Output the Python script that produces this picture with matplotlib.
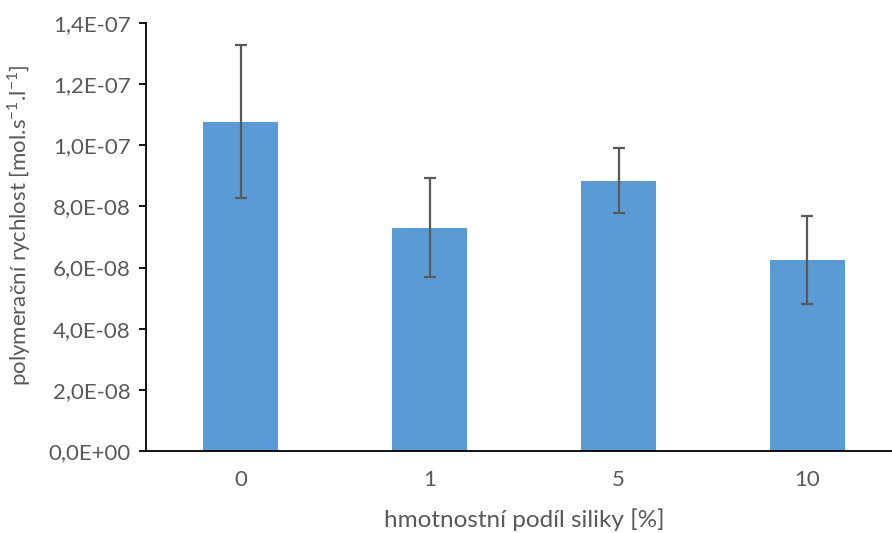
import numpy as np
import matplotlib
matplotlib.use('Agg')
import matplotlib.pyplot as plt
from matplotlib.ticker import FuncFormatter

categories = ['0', '1', '5', '10']
rates = [1.077e-7, 7.30e-8, 8.84e-8, 6.25e-8]
errors = [2.50e-8, 1.62e-8, 1.06e-8, 1.44e-8]
yticks = [0, 2e-8, 4e-8, 6e-8, 8e-8, 1e-7, 1.2e-7, 1.4e-7]

plt.rcParams['font.family'] = ['Lato', 'DejaVu Sans']

fig = plt.figure(figsize=(8.92, 5.33), dpi=100)
ax = fig.add_axes([146 / 892, 82 / 533, 756 / 892, 428 / 533])

x = np.arange(len(categories))
ax.bar(x, rates, width=0.4, color='#5B9BD5', zorder=2)
ax.errorbar(x, rates, yerr=errors, fmt='none', ecolor='#595959',
            elinewidth=1.6, capsize=4.5, capthick=1.6, zorder=3)

ax.set_xlim(-0.5, 3.5)
ax.set_ylim(0, 1.4e-7)
ax.set_yticks(yticks)
ax.yaxis.set_major_formatter(FuncFormatter(
    lambda v, p: ('%.1E' % v).replace('.', ',')))
ax.set_xticks(x)
ax.set_xticklabels(categories)

for s in ['top', 'right']:
    ax.spines[s].set_visible(False)
ax.spines['left'].set_linewidth(1.3)
ax.spines['bottom'].set_linewidth(1.3)
ax.tick_params(axis='y', length=5, width=1.3, labelsize=16,
               labelcolor='#595959', pad=6)
ax.tick_params(axis='x', length=0, labelsize=16, labelcolor='#595959', pad=14)

ax.set_ylabel('polymerační rychlost [mol.s$^{\\mathregular{-1}}$.l$^{\\mathregular{-1}}$]',
              fontsize=16, color='#595959')
ax.yaxis.set_label_coords((33 - 146) / 756, (451 - 225) / 428)
ax.set_xlabel('hmotnostní podíl siliky [%]', fontsize=17.5, color='#595959')
ax.xaxis.set_label_coords((524 - 146) / 756, -(508 - 451) / 428)

fig.savefig('out.png', dpi=100)
